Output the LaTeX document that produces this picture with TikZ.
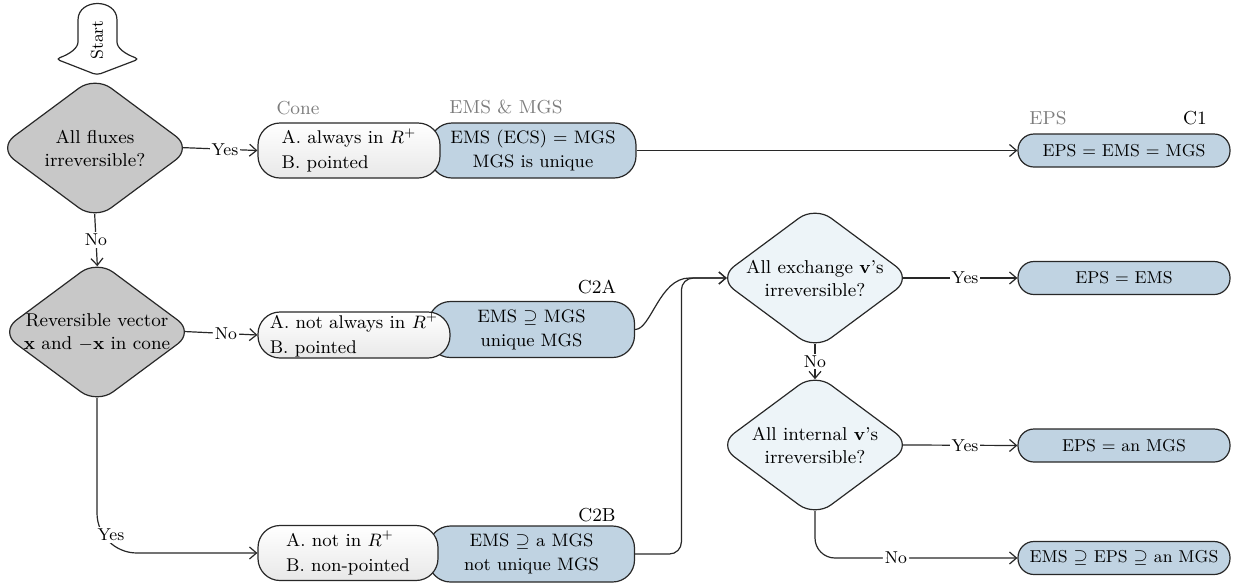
\documentclass[tikz,border=0pt]{standalone}
\usepackage{amsmath,amssymb}
\usepackage{xcolor}
\usetikzlibrary{positioning, calc, arrows.meta, shapes.geometric}

\definecolor{qgray}{RGB}{200,200,200}
\definecolor{qblue}{RGB}{237,244,248}
\definecolor{boxblue}{RGB}{192,211,226}
\definecolor{linecol}{RGB}{40,40,40}
\definecolor{labgray}{RGB}{125,125,125}

\tikzset{
  decision/.style={diamond, draw=linecol, line width=0.6pt, rounded corners=10pt, aspect=1.4,
    inner sep=-8pt, minimum width=97pt, minimum height=72pt, align=center,
    font=\fontsize{9.3pt}{11.5pt}\selectfont},
  cone/.style={rectangle, draw=linecol, line width=0.6pt, rounded corners=11pt, top color=white,
    bottom color=black!9, minimum width=91pt, minimum height=27.5pt, align=left, inner sep=0pt,
    font=\fontsize{9.2pt}{12.5pt}\selectfont},
  ems/.style={rectangle, draw=linecol, line width=0.6pt, rounded corners=11pt, fill=boxblue,
    minimum width=103pt, minimum height=27.5pt, align=center, inner sep=0pt,
    font=\fontsize{9pt}{12pt}\selectfont},
  result/.style={rectangle, draw=linecol, line width=0.6pt, rounded corners=8pt, fill=boxblue,
    minimum width=106pt, minimum height=16.5pt, inner sep=0pt},
  tag/.style={font=\fontsize{9.4pt}{11pt}\selectfont},
  ans/.style={fill=white, inner sep=1pt},
  link/.style={draw=linecol, line width=0.6pt, -{Straight Barb[length=3.5pt,width=6pt]}},
  fromside/.style={shorten <=-4.7pt},
  frombottom/.style={shorten <=-3.4pt},
  totop/.style={shorten >=-3.4pt},
  toside/.style={shorten >=-4.7pt}
}

\begin{document}
\begin{tikzpicture}[x=0.5pt, y=-0.5pt, font=\fontsize{8.6pt}{12pt}\selectfont]
  \useasboundingbox (0,0) rectangle (1233,585);

  \draw[draw=linecol, line width=0.6pt, fill=white, rounded corners=2pt]
    (97,75) -- (56,59) .. controls (70,54) and (78,48) .. (78,38) -- (78,24)
    .. controls (78,-2) and (117,-2) .. (117,24) -- (117,38)
    .. controls (117,48) and (125,54) .. (139,59) -- cycle;
  \node[rotate=90] (start) at (97,40) {Start};

  \node[decision, fill=qgray] (d1) at (95,148) {All fluxes\\irreversible?};
  \node[decision, fill=qgray] (d2) at (97,332) {Reversible vector\\$\mathbf{x}$ and $-\mathbf{x}$ in cone};
  \node[decision, fill=qblue] (d3) at (815,278) {All exchange $\mathbf{v}$'s\\irreversible?};
  \node[decision, fill=qblue] (d4) at (815,445) {All internal $\mathbf{v}$'s\\irreversible?};

  \node[ems] (ems1) at (533,150.5) {EMS (ECS) = MGS\\MGS is unique};
  \node[cone] (cone1) at (349,150.5) {A. always in $R^{+}$\\B. pointed};
  \node[ems, minimum height=28pt] (c2a) at (531.5,329.5) {EMS $\supseteq$ MGS\\unique MGS};
  \node[cone, minimum width=96pt, minimum height=23pt] (cone2) at (354,335) {A. not always in $R^{+}$\\B. pointed};
  \node[ems, minimum height=28pt] (c2b) at (531.5,554) {EMS $\supseteq$ a MGS\\not unique MGS};
  \node[cone, minimum width=90pt] (cone3) at (348,553) {A. not in $R^{+}$\\B. non-pointed};

  \node[result] (r1) at (1124,150.5) {EPS = EMS = MGS};
  \node[result] (r2) at (1124,278) {EPS = EMS};
  \node[result] (r3) at (1124,445.5) {EPS = an MGS};
  \node[result] (r4) at (1124,558) {EMS $\supseteq$ EPS $\supseteq$ an MGS};

  \node[tag, text=labgray] (lcone) at (298,108) {Cone};
  \node[tag, text=labgray] (lems) at (506,107) {EMS \& MGS};
  \node[tag, text=labgray] (leps) at (1048,118) {EPS};
  \node[tag] (lc1) at (1195,118) {C1};
  \node[tag] (lc2a) at (597,287) {C2A};
  \node[tag] (lc2b) at (597,515) {C2B};

  \draw[link, fromside] (d1.east) -- node[ans]{Yes} (cone1.west);
  \draw[link, frombottom, totop] (d1.south) -- node[ans]{No} (d2.north);
  \draw[link] (ems1.east) -- (r1.west);
  \draw[link, fromside] (d2.east) -- node[ans]{No} (cone2.west);
  \draw[link, frombottom, rounded corners=20pt] (d2.south) |- (cone3.west);
  \node[ans] (yes3) at ($(d2.south |- cone3.west)+(14,-18)$) {Yes};
  \draw[link, toside] (c2a.east) .. controls +(16,0) and +(-30,0) .. ($(d3.west)+(-28,0)$) -- (d3.west);
  \draw[link, toside, rounded corners=6pt] (c2b.east) -| ($(d3.west)+(-36,0)$) -- (d3.west);
  \draw[link, fromside] (d3.east) -- node[ans]{Yes} (r2.west);
  \draw[link, frombottom, totop] (d3.south) -- node[ans]{No} (d4.north);
  \draw[link, fromside] (d4.east) -- node[ans]{Yes} (r3.west);
  \draw[link, frombottom, rounded corners=10pt] (d4.south) |- node[ans, pos=0.7]{No} (r4.west);
\end{tikzpicture}
\end{document}
